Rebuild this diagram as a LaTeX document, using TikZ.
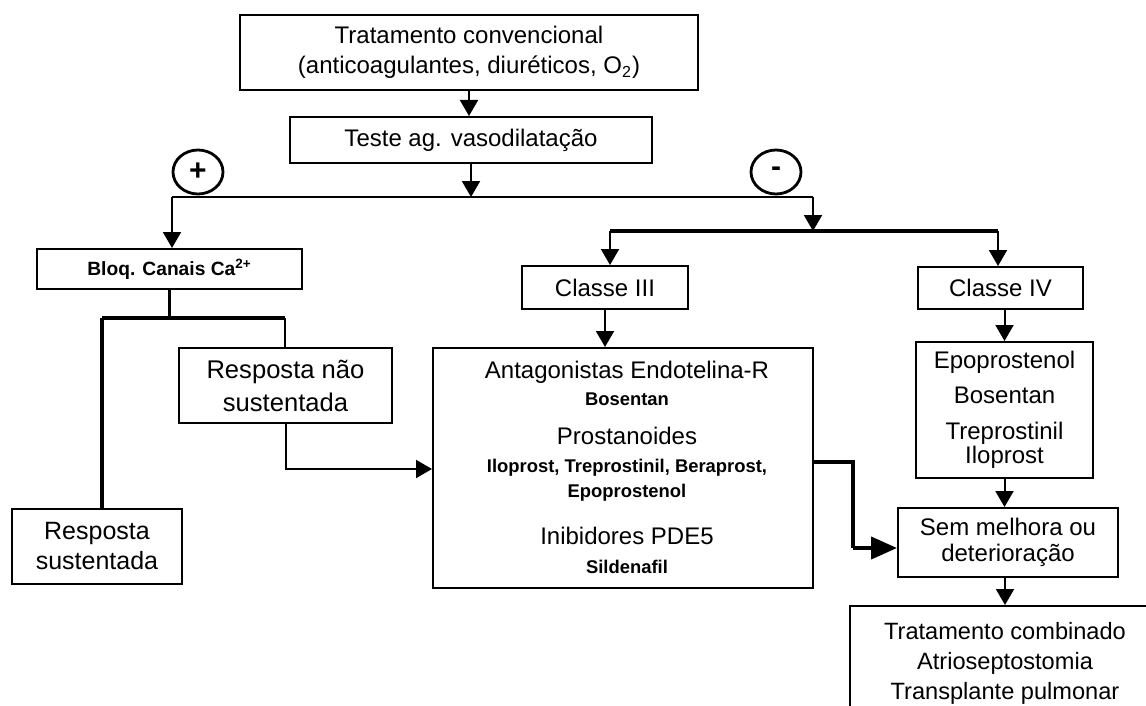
\documentclass[tikz,border=0pt]{standalone}
\usepackage{fontspec}
\setmainfont{Liberation Sans}
\usetikzlibrary{arrows.meta,shapes.geometric}
\tikzset{
  box/.style={draw, line width=1pt, align=center, inner sep=0pt, font=\fontsize{12}{15}\selectfont},
  txt/.style={inner sep=0pt, anchor=base},
  big12/.style={txt, font=\fontsize{12}{14}\selectfont},
  sm10/.style={txt, font=\fontsize{9.2}{11}\bfseries},
  conn/.style={line width=1pt},
  thk/.style={line width=1.8pt},
  arr/.style={line width=1pt, -{Triangle[width=9pt,length=8pt]}},
  arrbig/.style={line width=2pt, -{Triangle[width=11pt,length=13pt]}},
  sign/.style={draw, ellipse, line width=1.4pt, minimum width=25pt, minimum height=22pt, inner sep=0pt, font=\fontsize{15}{15}\bfseries}
}
\begin{document}
\begin{tikzpicture}[x=0.5pt,y=-0.5pt]
\useasboundingbox (0,0) rectangle (1146,706);
\clip (0,0) rectangle (1146,706);
% nodes
\node[box, minimum width=229pt, minimum height=37.5pt] (t1) at (469,52.5) {Tratamento convencional\\(anticoagulantes, diuréticos, O\textsubscript{2})};
\node[box, minimum width=181pt, minimum height=23pt] (t2) at (471,140) {Teste ag. vasodilatação};
\node[sign] (plus) at (198,172) {+};
\node[sign] (minus) at (776,172) {-};
\node[box, minimum width=132.5pt, minimum height=20pt, font=\fontsize{9.6}{11}\bfseries] (bloq) at (169.5,269) {Bloq. Canais Ca\textsuperscript{2+}};
\node[box, minimum width=83pt, minimum height=21.5pt] (c3) at (605,287.5) {Classe III};
\node[box, minimum width=82.5pt, minimum height=21pt] (c4) at (1000.5,288) {Classe IV};
\node[box, minimum width=106.5pt, minimum height=37.5pt, font=\fontsize{12.8}{16.5}\selectfont] (rns) at (285.5,385.5) {Resposta não\\sustentada};
\node[box, minimum width=85pt, minimum height=37.5pt, font=\fontsize{12.5}{15}\selectfont] (rs) at (97,546.5) {Resposta\\sustentada};
\node[box, minimum width=190pt, minimum height=120pt] (big) at (623,468) {};
\node[big12] (b1) at (627,378) {Antagonistas Endotelina-R};
\node[sm10] (b2) at (627,405) {Bosentan};
\node[big12] (b3) at (627,444) {Prostanoides};
\node[sm10] (b4) at (627,472) {Iloprost, Treprostinil, Beraprost,};
\node[sm10] (b5) at (627,497) {Epoprostenol};
\node[big12] (b6) at (627,544) {Inibidores PDE5};
\node[sm10] (b7) at (627,573) {Sildenafil};
\node[box, minimum width=88.5pt, minimum height=68pt, font=\fontsize{12}{12}\selectfont] (epo) at (1004.5,410) {Epoprostenol\\[5.5pt]Bosentan\\[6pt]Treprostinil\\Iloprost};
\node[box, minimum width=110pt, minimum height=34.5pt, font=\fontsize{12}{13}\selectfont] (sem) at (1008,542.5) {Sem melhora ou\\deterioração};
\node[box, minimum width=155pt, minimum height=57pt, font=\fontsize{11.8}{15}\selectfont] (combo) at (1005,663) {Tratamento combinado\\Atrioseptostomia\\Transplante pulmonar};
% junction coordinates
\coordinate (jl) at (172,197);
\coordinate (jr) at (813,197);
\coordinate (k1) at (610,231);
\coordinate (k2) at (998,231);
\coordinate (bl) at (102,318);
\coordinate (br) at (285,318);
\coordinate (m1) at (285,469);
\coordinate (e1) at (853,462);
\coordinate (e2) at (853,548);
% connectors
\draw[arr] (t1.south) -- (t1.south |- t2.north);
\draw[arr] (t2.south) -- (t2.south |- jl);
\draw[conn] (jl) -- (jr);
\draw[arr] (jl) -- (jl |- bloq.north);
\draw[arr] (jr) -- (jr |- k1);
\draw[thk] (k1) -- (k2);
\draw[arr] (k1) -- (k1 |- c3.north);
\draw[arr] (k2) -- (k2 |- c4.north);
\draw[arr] (c3.south) -- (c3.south |- big.north);
\draw[arr] (epo.north |- c4.south) -- (epo.north);
\draw[arr] (epo.south) -- (epo.south |- sem.north);
\draw[arr] (combo.north |- sem.south) -- (combo.north);
\draw[thk] (bloq.south) -- (bloq.south |- bl);
\draw[thk] (bl) -- (br);
\draw[line width=2pt] (bl) -- (bl |- rs.north);
\draw[conn] (br) -- (br |- rns.north);
\draw[arr] (rns.south) -- (rns.south |- m1) -- (m1 -| big.west);
\draw[thk] (big.east |- e1) -- (e1) -- (e2);
\draw[arrbig] (e2) -- (e2 -| sem.west);
\end{tikzpicture}
\end{document}
